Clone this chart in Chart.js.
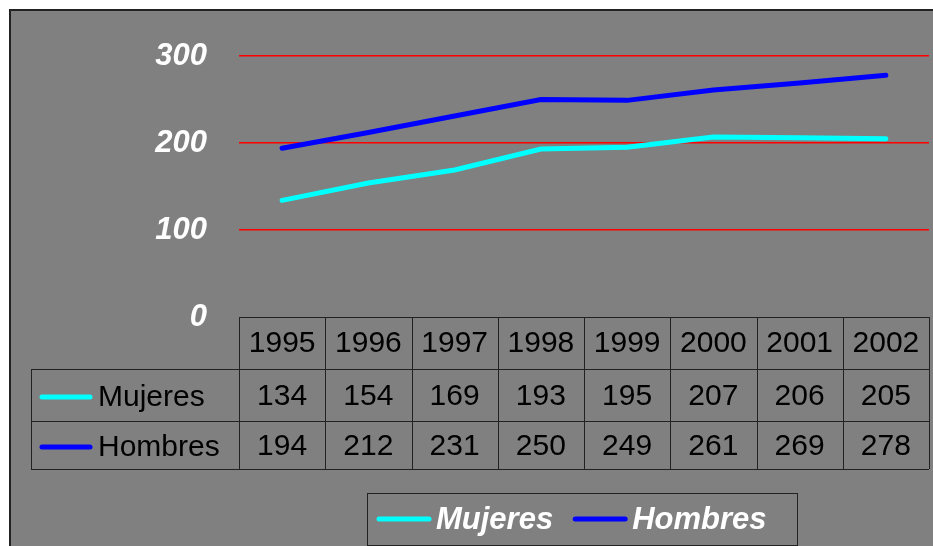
<!DOCTYPE html>
<html>
<head>
<meta charset="utf-8">
<script src="https://cdn.jsdelivr.net/npm/chart.js@4/dist/chart.umd.min.js"></script>
<style>
  html, body { margin: 0; padding: 0; background: #ffffff; }
  #wrap { width: 933px; height: 546px; }
</style>
</head>
<body>
<div id="wrap"><canvas id="chart" width="933" height="546"></canvas></div>
<script>
const years = ["1995", "1996", "1997", "1998", "1999", "2000", "2001", "2002"];
const mujeres = [134, 154, 169, 193, 195, 207, 206, 205];
const hombres = [194, 212, 231, 250, 249, 261, 269, 278];
const seriesNames = ["Mujeres", "Hombres"];
const seriesColors = ["#00FFFF", "#0000FF"];

const FONT = "'Liberation Sans', Arial, sans-serif";

// marco gris con borde
const framePlugin = {
    id: "frame",
    beforeDraw(chart) {
        const ctx = chart.ctx;
        ctx.save();
        ctx.fillStyle = "#ffffff";
        ctx.fillRect(0, 0, chart.width, chart.height);
        ctx.fillStyle = "#808080";
        ctx.fillRect(10, 10, chart.width, chart.height);
        ctx.strokeStyle = "#222222";
        ctx.lineWidth = 2;
        ctx.strokeRect(10, 10, chart.width + 10, chart.height + 10);
        ctx.restore();
    }
};

// tabla de datos bajo el eje y leyenda inferior
const tablePlugin = {
    id: "dataTable",
    afterDraw(chart) {
        const ctx = chart.ctx;
        const x = chart.scales.x;
        const area = chart.chartArea;
        const step = x.getPixelForValue(1) - x.getPixelForValue(0);
        const left = area.left, right = area.right;
        const rows = [area.bottom, area.bottom + 52, area.bottom + 104, area.bottom + 152];
        const keyLeft = 31;

        ctx.save();
        ctx.strokeStyle = "#222222";
        ctx.lineWidth = 1;
        ctx.beginPath();
        ctx.moveTo(left, rows[0] + 0.5); ctx.lineTo(right, rows[0] + 0.5);
        for (let r = 1; r < rows.length; r++) {
            ctx.moveTo(keyLeft, rows[r] + 0.5); ctx.lineTo(right, rows[r] + 0.5);
        }
        ctx.moveTo(keyLeft + 0.5, rows[1]); ctx.lineTo(keyLeft + 0.5, rows[3]);
        for (let i = 0; i <= years.length; i++) {
            const px = Math.round(x.getPixelForValue(i) - step / 2) + 0.5;
            ctx.moveTo(px, rows[0]); ctx.lineTo(px, rows[3]);
        }
        ctx.stroke();

        ctx.fillStyle = "#000000";
        ctx.font = "30px " + FONT;
        ctx.textAlign = "center";
        ctx.textBaseline = "middle";
        years.forEach((y, i) => {
            ctx.fillText(y, x.getPixelForValue(i), (rows[0] + rows[1]) / 2 + 1);
        });
        chart.data.datasets.forEach((ds, r) => {
            const cy = (rows[r + 1] + rows[r + 2]) / 2 + 2;
            ds.data.forEach((v, i) => {
                ctx.fillStyle = "#000000";
                ctx.textAlign = "center";
                ctx.fillText(String(v), x.getPixelForValue(i), cy);
            });
            ctx.strokeStyle = ds.borderColor;
            ctx.lineWidth = 5;
            ctx.lineCap = "round";
            ctx.beginPath();
            ctx.moveTo(42, cy); ctx.lineTo(90, cy);
            ctx.stroke();
            ctx.fillStyle = "#000000";
            ctx.textAlign = "left";
            ctx.fillText(ds.label, 98, cy + 1);
        });

        // leyenda
        const lx = 367, ly = 493, lw = 430, lh = 52;
        ctx.strokeStyle = "#222222";
        ctx.lineWidth = 1;
        ctx.strokeRect(lx + 0.5, ly + 0.5, lw, lh);
        ctx.font = "italic bold 31px " + FONT;
        ctx.textAlign = "left";
        let cx = 379;
        const cy = ly + 26;
        chart.data.datasets.forEach((ds) => {
            ctx.strokeStyle = ds.borderColor;
            ctx.lineWidth = 5;
            ctx.lineCap = "round";
            ctx.beginPath();
            ctx.moveTo(cx, cy); ctx.lineTo(cx + 50, cy);
            ctx.stroke();
            ctx.fillStyle = "#ffffff";
            ctx.fillText(ds.label, cx + 57, cy + 1);
            cx += 57 + ctx.measureText(ds.label).width + 22;
        });
        ctx.restore();
    }
};

new Chart(document.getElementById("chart"), {
    type: "line",
    data: {
        labels: years,
        datasets: [
            {
                label: seriesNames[0],
                data: mujeres,
                borderColor: seriesColors[0],
                backgroundColor: seriesColors[0],
                borderWidth: 5,
                borderCapStyle: "round",
                pointRadius: 0,
                tension: 0
            },
            {
                label: seriesNames[1],
                data: hombres,
                borderColor: seriesColors[1],
                backgroundColor: seriesColors[1],
                borderWidth: 5,
                borderCapStyle: "round",
                pointRadius: 0,
                tension: 0
            }
        ]
    },
    options: {
        responsive: false,
        animation: false,
        layout: {
            padding: { left: 10, right: 4, top: 56, bottom: 229 }
        },
        plugins: {
            legend: { display: false },
            tooltip: { enabled: false }
        },
        scales: {
            x: {
                display: false,
                offset: true
            },
            y: {
                min: 0,
                max: 300,
                afterFit(scale) { scale.width = 229; },
                border: { display: false },
                grid: {
                    drawTicks: false,
                    lineWidth: 1.5,
                    color: (c) => c.tick && c.tick.value === 0 ? "rgba(0,0,0,0)" : "#FF0000"
                },
                ticks: {
                    stepSize: 100,
                    padding: 32,
                    color: "#ffffff",
                    font: { family: FONT, size: 31, style: "italic", weight: "bold" }
                }
            }
        }
    },
    plugins: [framePlugin, tablePlugin]
});
</script>
</body>
</html>
